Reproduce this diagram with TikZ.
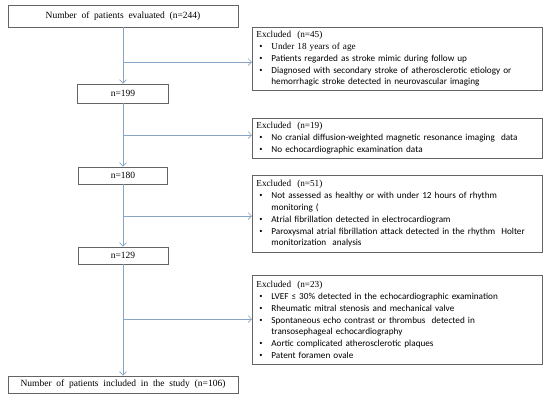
\documentclass[tikz,border=0pt]{standalone}
\usepackage{fontspec}
\setmainfont{Liberation Serif}
\newfontfamily\bulfont{Carlito}
\usetikzlibrary{arrows.meta}
\definecolor{linec}{RGB}{135,165,195}
\definecolor{boxc}{RGB}{100,100,100}
\newcommand\bitem[1]{\par\hangindent=15pt\hangafter=1\noindent\makebox[15pt][l]{\hspace{3pt}\textbullet}{\bulfont #1}\par}
\newcommand\exhead[1]{\noindent #1\par}
\begin{document}
\begin{tikzpicture}[x=1pt,y=-1pt,
  mbox/.style={draw=boxc, line width=0.8pt, inner sep=0pt, font=\fontsize{9.5}{11}\selectfont},
  exbox/.style={draw=boxc, line width=0.8pt, anchor=north west, minimum width=290pt, text width=282pt, inner sep=4pt, align=left, font=\fontsize{9.2}{11.8}\selectfont},
  conn/.style={draw=linec, line width=0.7pt},
  arr/.style={conn, -{Straight Barb[length=3.5pt,width=7pt]}}]
\useasboundingbox (0,0) rectangle (550,402);
\fill[white] (0,0) rectangle (550,402);
% main column
\node[mbox, minimum width=230pt, minimum height=22pt] (top) at (123,16) {Number \ of \ patients \ evaluated \ (n=244)};
\node[mbox, minimum width=91pt, minimum height=19pt] (n199) at (123,93.5) {n=199};
\node[mbox, minimum width=89pt, minimum height=17pt] (n180) at (123,175.5) {n=180};
\node[mbox, minimum width=90pt, minimum height=17pt] (n129) at (123,255.5) {n=129};
\node[mbox, minimum width=230pt, minimum height=17pt] (bot) at (123,384.5) {Number \ of \ patients \ included \ in \ the \ study \ (n=106)};
% excluded boxes
\node[exbox, minimum height=63pt] (e1) at (252,27) {\exhead{Excluded \ (n=45)}
\bitem{\rmfamily Under 18 years of age}
\bitem{Patients regarded as stroke mimic during follow up}
\bitem{Diagnosed with secondary stroke of atherosclerotic etiology or\newline hemorrhagic stroke detected in neurovascular imaging}};
\node[exbox, minimum height=39pt] (e2) at (252,118) {\exhead{Excluded \ (n=19)}
\bitem{No cranial diffusion-weighted magnetic resonance imaging \ data}
\bitem{No echocardiographic examination data}};
\node[exbox, minimum height=77pt] (e3) at (252,175) {\exhead{Excluded \ (n=51)}
\bitem{Not assessed as healthy or with under 12 hours of rhythm\newline monitoring (}
\bitem{Atrial fibrillation detected in electrocardiogram}
\bitem{Paroxysmal atrial fibrillation attack detected in the rhythm \ Holter\newline monitorization \ analysis}};
\node[exbox, minimum height=89pt] (e4) at (252,275) {\exhead{Excluded \ (n=23)}
\bitem{LVEF ≤ 30\% detected in the echocardiographic examination}
\bitem{Rheumatic mitral stenosis and mechanical valve}
\bitem{Spontaneous echo contrast or thrombus \ detected in\newline transosephageal echocardiography}
\bitem{Aortic complicated atherosclerotic plaques}
\bitem{Patent foramen ovale}};
% branch points
\coordinate (b1) at (123,62);
\coordinate (b2) at (123,135);
\coordinate (b3) at (123,216);
\coordinate (b4) at (123,319);
% spine
\draw[arr] (top.south) -- (n199.north);
\draw[arr] (n199.south) -- (n180.north);
\draw[arr] (n180.south) -- (n129.north);
\draw[arr] (n129.south) -- (bot.north);
% branches
\draw[arr] (b1) -- (b1 -| e1.west);
\draw[arr] (b2) -- (b2 -| e2.west);
\draw[arr] (b3) -- (b3 -| e3.west);
\draw[arr] (b4) -- (b4 -| e4.west);
\end{tikzpicture}
\end{document}
